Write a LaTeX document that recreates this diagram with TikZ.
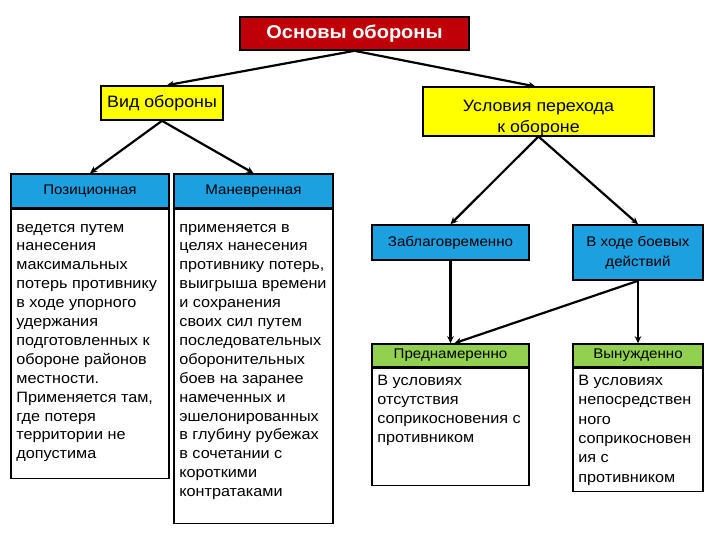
\documentclass[tikz,border=0pt]{standalone}
\usepackage{fontspec}
\setmainfont{Liberation Sans}[FakeStretch=1.08]
\usepackage{tikz}
\usetikzlibrary{arrows.meta,positioning}

\definecolor{titlered}{RGB}{192,0,8}
\definecolor{capyellow}{RGB}{255,255,0}
\definecolor{headblue}{RGB}{28,160,224}
\definecolor{headgreen}{RGB}{146,208,80}

\tikzset{
  box/.style={draw=black,line width=1.6pt,inner sep=0pt,align=center},
  titlebox/.style={box,fill=titlered,text=white,font=\bfseries\fontsize{18.5}{21}\selectfont},
  capbox/.style={box,fill=capyellow,font=\fontsize{16.5}{21}\selectfont},
  bluebox/.style={box,fill=headblue,font=\fontsize{14}{20}\selectfont},
  greenbox/.style={box,fill=headgreen,font=\fontsize{14}{18}\selectfont},
  bodybox/.style={box,fill=white},
  bodytext/.style={inner sep=0pt,align=left,anchor=north west,font=\fontsize{15}{18.9}\selectfont},
  arr/.style={line width=2.2pt,-{Stealth[length=7pt,width=6.5pt]}}
}

\begin{document}
\begin{tikzpicture}[x=1pt,y=-1pt]
\useasboundingbox (0,0) rectangle (720,540);

% top levels
\node[titlebox,minimum width=229pt,minimum height=33pt] (osn) at (354.5,33.5) {Основы обороны};
\node[capbox,minimum width=122pt,minimum height=34pt] (vid) at (162,103) {Вид обороны};
\node[capbox,minimum width=231pt,minimum height=45pt] (usl) at (538.5,111.5) {\rule{0pt}{24pt}Условия перехода\\к обороне};

% left branch: kinds of defence
\node[bluebox,minimum width=158pt,minimum height=34pt] (poz) at (90,191) {Позиционная};
\node[bodybox,minimum width=158pt,minimum height=269pt,below=0pt of poz] (pozbody) {};
\node[bodytext] (poztext) at ([xshift=6pt,yshift=-15pt]pozbody.north west)
  {ведется путем\\нанесения\\максимальных\\потерь противнику\\в ходе упорного\\удержания\\подготовленных к\\обороне районов\\местности.\\Применяется там,\\где потеря\\территории не\\допустима};

\node[bluebox,minimum width=159pt,minimum height=34pt] (man) at (253.5,191) {Маневренная};
\node[bodybox,minimum width=159pt,minimum height=314pt,below=0pt of man] (manbody) {};
\node[bodytext] (mantext) at ([xshift=6pt,yshift=-15pt]manbody.north west)
  {применяется в\\целях нанесения\\противнику потерь,\\выигрыша времени\\и сохранения\\своих сил путем\\последовательных\\оборонительных\\боев на заранее\\намеченных и\\эшелонированных\\в глубину рубежах\\в сочетании с\\короткими\\контратаками};

% right branch: conditions
\node[bluebox,minimum width=157pt,minimum height=35pt] (zabl) at (450.5,242.5) {Заблаговременно};
\node[bluebox,minimum width=130pt,minimum height=55pt] (hod) at (638,252.5) {В ходе боевых\\действий};

\node[greenbox,minimum width=157pt,minimum height=23pt] (pred) at (450.5,355.5) {Преднамеренно};
\node[bodybox,minimum width=157pt,minimum height=117pt,below=0pt of pred] (predbody) {};
\node[bodytext,font=\fontsize{15}{19}\selectfont] (predtext) at ([xshift=6pt,yshift=-7pt]predbody.north west)
  {В условиях\\отсутствия\\соприкосновения с\\противником};

\node[greenbox,minimum width=130pt,minimum height=23pt] (vyn) at (638,355.5) {Вынужденно};
\node[bodybox,minimum width=130pt,minimum height=123pt,below=0pt of vyn] (vynbody) {};
\node[bodytext,font=\fontsize{15}{19.4}\selectfont] (vyntext) at ([xshift=6pt,yshift=-7pt]vynbody.north west)
  {В условиях\\непосредствен\\ного\\соприкосновен\\ия с\\противником};

% connectors
\draw[arr] (osn.south) -- ([xshift=5pt]vid.north);
\draw[arr] (osn.south) -- ([xshift=-3pt]usl.north);
\draw[arr] (vid.south) -- (poz.north);
\draw[arr] (vid.south) -- (man.north);
\draw[arr] (usl.south) -- (zabl.north);
\draw[arr] (usl.south) -- (hod.north);
\draw[arr] (zabl.south) -- (pred.north);
\draw[arr] (hod.south) -- ([xshift=4pt]pred.north);
\draw[arr] (hod.south) -- (vyn.north);
\end{tikzpicture}
\end{document}
